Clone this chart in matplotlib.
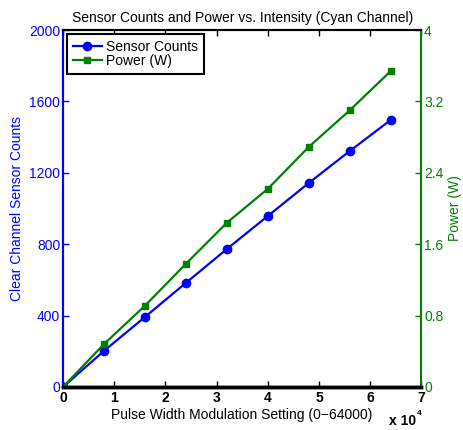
import matplotlib
matplotlib.use("Agg")
import matplotlib.pyplot as plt

plt.rcParams['font.family'] = ['Liberation Sans', 'DejaVu Sans']

pwm = [0, 8000, 16000, 24000, 32000, 40000, 48000, 56000, 64000]
counts = [0, 202, 392, 583, 773, 958, 1143, 1322, 1496]
power = [0, 0.48, 0.91, 1.38, 1.84, 2.22, 2.69, 3.10, 3.54]
xticks = [0, 10000, 20000, 30000, 40000, 50000, 60000, 70000]
xticklabels = ['0', '1', '2', '3', '4', '5', '6', '7']
lticks = [0, 400, 800, 1200, 1600, 2000]
rticks = [0, 0.8, 1.6, 2.4, 3.2, 4]
rticklabels = ['0', '0.8', '1.6', '2.4', '3.2', '4']

BLUE = '#0000ff'
GREEN = '#008000'

fig = plt.figure(figsize=(4.63, 4.30), dpi=100)
ax = fig.add_axes([0.136, 0.1, 0.774, 0.830])
ax2 = ax.twinx()

l1, = ax.plot(pwm, counts, color=BLUE, lw=1.6, marker='o', ms=6, label='Sensor Counts')
l2, = ax2.plot(pwm, power, color=GREEN, lw=1.6, marker='s', ms=4.5, label='Power (W)')

ax.set_xlim(0, 70000)
ax.set_ylim(0, 2000)
ax2.set_ylim(0, 4)
ax.set_xticks(xticks)
ax.set_xticklabels(xticklabels, fontsize=10, fontweight='bold')
ax.set_yticks(lticks)
ax.set_yticklabels([str(t) for t in lticks], fontsize=10, color=BLUE)
ax2.set_yticks(rticks)
ax2.set_yticklabels(rticklabels, fontsize=10, color=GREEN)

ax.tick_params(axis='x', direction='in', top=True, length=4, width=1, pad=3)
ax.tick_params(axis='y', direction='in', length=4, width=1, color=BLUE, pad=2)
ax2.tick_params(axis='y', direction='in', length=4, width=1, color=GREEN, pad=2)

for a in (ax, ax2):
    a.spines['top'].set_color('black')
    a.spines['bottom'].set_color('black')
    a.spines['top'].set_linewidth(1.5)
    a.spines['bottom'].set_linewidth(2.5)
ax.spines['left'].set_color(BLUE)
ax.spines['left'].set_linewidth(1.5)
ax2.spines['left'].set_color(BLUE)
ax2.spines['left'].set_linewidth(1.5)
ax2.spines['right'].set_color(GREEN)
ax2.spines['right'].set_linewidth(1.5)
ax.spines['right'].set_visible(False)

ax.set_xlabel('Pulse Width Modulation Setting (0\u221264000)', fontsize=10, labelpad=2)
ax.set_ylabel('Clear Channel Sensor Counts', fontsize=10, color=BLUE, labelpad=4)
ax2.set_ylabel('Power (W)', fontsize=10, color=GREEN, labelpad=3)
ax.set_title('Sensor Counts and Power vs. Intensity (Cyan Channel)', fontsize=10, pad=6)

# offset "x 10^4"
ax.text(0.986, -0.106, 'x 10', transform=ax.transAxes, ha='right', va='baseline',
        fontsize=10, fontweight='bold')
ax.text(0.988, -0.078, '4', transform=ax.transAxes, ha='left', va='baseline',
        fontsize=6, fontweight='bold')

leg = ax2.legend(handles=[l1, l2], loc='upper left', fontsize=10, frameon=True,
                 fancybox=False, framealpha=1, edgecolor='black',
                 borderpad=0.4, handlelength=2.1, handletextpad=0.3,
                 labelspacing=0.02, borderaxespad=0.3)
leg.get_frame().set_linewidth(1.5)

fig.savefig('out.png', dpi=100)
